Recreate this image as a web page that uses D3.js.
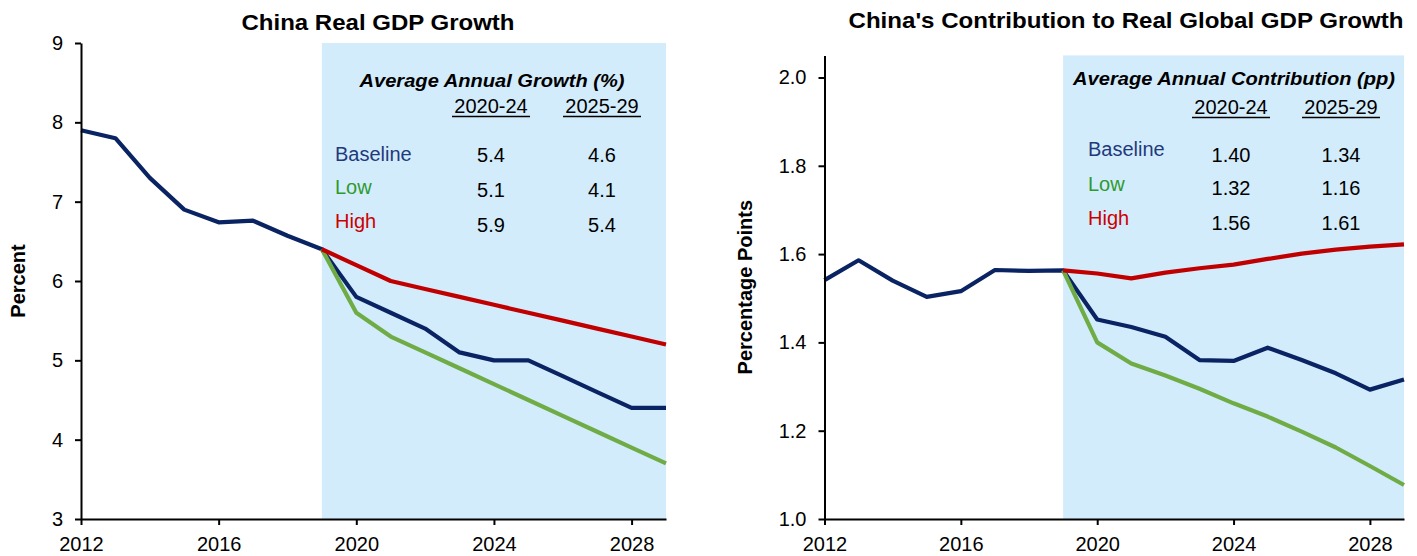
<!DOCTYPE html>
<html><head><meta charset="utf-8">
<script src="https://cdn.jsdelivr.net/npm/d3@7/dist/d3.min.js"></script>
<style>
html,body{margin:0;padding:0;background:#fff;}
svg{display:block;}
text{font-family:"Liberation Sans",Arial,Helvetica,sans-serif;}
</style></head>
<body>
<svg id="chart" width="1417" height="556"></svg>
<script>
// ---------- DATA ----------
const years = [2012,2013,2014,2015,2016,2017,2018,2019,2020,2021,2022,2023,2024,2025,2026,2027,2028,2029];
const forecastYears = [2019,2020,2021,2022,2023,2024,2025,2026,2027,2028,2029];
const xTicks = [2012,2016,2020,2024,2028];

// Left panel: China real GDP growth (%)
const gdpBaseline = [7.9,7.8,7.3,6.9,6.74,6.76,6.57,6.4,5.8,5.6,5.4,5.1,5.0,5.0,4.8,4.6,4.4,4.4];
const gdpLow  = [6.4,5.6,5.3,5.1,4.9,4.7,4.5,4.3,4.1,3.9,3.7];
const gdpHigh = [6.4,6.2,6.0,5.9,5.8,5.7,5.6,5.5,5.4,5.3,5.2];
const gdpYTicks = [3,4,5,6,7,8,9];

// Right panel: contribution to global growth (pp)
const contribBaseline = [1.541,1.586,1.540,1.503,1.516,1.564,1.562,1.563,1.452,1.435,1.413,1.360,1.358,1.388,1.360,1.330,1.293,1.316];
const contribLow  = [1.563,1.400,1.352,1.325,1.295,1.262,1.232,1.198,1.162,1.120,1.077];
const contribHigh = [1.563,1.556,1.545,1.558,1.568,1.576,1.589,1.601,1.610,1.617,1.622];
const contribYTicks = [1.0,1.2,1.4,1.6,1.8,2.0];

// Tables
const scenarioNames = ["Baseline","Low","High"];
const periodLabels = ["2020-24","2025-29"];
const gdpTable = [["5.4","4.6"],["5.1","4.1"],["5.9","5.4"]];
const contribTable = [["1.40","1.34"],["1.32","1.16"],["1.56","1.61"]];

// ---------- STYLE ----------
const lineColors = {Baseline:"#0a2463", Low:"#6fac46", High:"#c00000"};
const labelColors = {Baseline:"#1f3a7a", Low:"#2e9a2e", High:"#cc0000"};
const shade = "#d3ecfc";
const svg = d3.select("#chart");

function panel(cfg){
  const x = d3.scaleLinear().domain([2012,2029]).range([cfg.left, cfg.right]);
  const y = d3.scaleLinear().domain(cfg.yDomain).range([cfg.bottom, cfg.top]);
  const g = svg.append("g");

  // shaded forecast region
  g.append("rect")
    .attr("x", x(2019)).attr("y", y(cfg.yDomain[1]))
    .attr("width", x(2029) - x(2019)).attr("height", y(cfg.yDomain[0]) - y(cfg.yDomain[1]))
    .attr("fill", shade);

  // title
  g.append("text").attr("x", cfg.titleX).attr("y", cfg.titleY)
    .attr("text-anchor","middle").attr("font-weight","bold").attr("font-size",22)
    .attr("textLength", cfg.titleLen).attr("lengthAdjust","spacingAndGlyphs")
    .text(cfg.title);

  // y label
  g.append("text")
    .attr("transform", `translate(${cfg.yLabelX},${(cfg.top+cfg.bottom)/2}) rotate(-90)`)
    .attr("text-anchor","middle").attr("font-weight","bold").attr("font-size",20)
    .text(cfg.yLabel);

  // table
  const t = cfg.table;
  g.append("text").attr("x", t.headX).attr("y", t.headY).attr("text-anchor","middle")
    .attr("font-weight","bold").attr("font-style","italic").attr("font-size",19)
    .attr("textLength", t.headLen).attr("lengthAdjust","spacingAndGlyphs")
    .text(t.heading);
  periodLabels.forEach((p,i)=>{
    g.append("text").attr("x", t.colX[i]).attr("y", t.colHeadY)
      .attr("text-anchor","middle").attr("font-size",20).text(p);
    g.append("line").attr("x1", t.colX[i]-39).attr("x2", t.colX[i]+39)
      .attr("y1", t.colHeadY+3.5).attr("y2", t.colHeadY+3.5)
      .attr("stroke","#000").attr("stroke-width",1.3);
  });
  scenarioNames.forEach((s,r)=>{
    g.append("text").attr("x", t.labelX).attr("y", t.rowY[r])
      .attr("font-size",20).attr("fill", labelColors[s]).text(s);
    t.values[r].forEach((v,c)=>{
      g.append("text").attr("x", t.colX[c]).attr("y", t.valY[r])
        .attr("text-anchor","middle").attr("font-size",20).attr("fill","#000").text(v);
    });
  });

  // lines
  const line = d3.line().x(d=>x(d[0])).y(d=>y(d[1]));
  const series = [
    ["Baseline", d3.zip(years, cfg.baseline)],
    ["Low", d3.zip(forecastYears, cfg.low)],
    ["High", d3.zip(forecastYears, cfg.high)]
  ];
  series.forEach(([name,pts])=>{
    g.append("path").attr("d", line(pts)).attr("fill","none")
      .attr("stroke", lineColors[name]).attr("stroke-width",4.2)
      .attr("stroke-linejoin","round");
  });

  // axes
  const xAxis = d3.axisBottom(x).tickValues(xTicks).tickFormat(d3.format("d"))
    .tickSizeInner(6).tickSizeOuter(0).tickPadding(12);
  const yAxis = d3.axisLeft(y).tickValues(cfg.yTicks).tickFormat(cfg.yFormat)
    .tickSizeInner(6).tickSizeOuter(0).tickPadding(12);
  const xa = g.append("g").attr("transform",`translate(0,${cfg.bottom})`).call(xAxis);
  const ya = g.append("g").attr("transform",`translate(${cfg.left},0)`).call(yAxis);
  [xa,ya].forEach(a=>{
    a.selectAll("path.domain").attr("stroke","#000").attr("stroke-width",2);
    a.selectAll(".tick line").attr("stroke","#000").attr("stroke-width",2);
    a.selectAll(".tick text").attr("font-size",20).attr("fill","#000")
      .attr("font-family",'"Liberation Sans",Arial,sans-serif');
  });
}

panel({
  left:81, right:666, top:43, bottom:519, yDomain:[3,9], yTicks:gdpYTicks, yFormat:d3.format("d"),
  baseline:gdpBaseline, low:gdpLow, high:gdpHigh,
  title:"China Real GDP Growth", titleX:378, titleY:30, titleLen:273,
  yLabel:"Percent", yLabelX:25,
  table:{heading:"Average Annual Growth (%)", headX:492, headY:87, headLen:265,
    colX:[491,602], colHeadY:113, labelX:335, rowY:[161,194,228], valY:[162,197,232], values:gdpTable}
});

panel({
  left:824.5, right:1404, top:55.4, bottom:519, yDomain:[1.0,2.05], yTicks:contribYTicks, yFormat:d3.format(".1f"),
  baseline:contribBaseline, low:contribLow, high:contribHigh,
  title:"China's Contribution to Real Global GDP Growth", titleX:1126, titleY:28, titleLen:555,
  yLabel:"Percentage Points", yLabelX:752,
  table:{heading:"Average Annual Contribution (pp)", headX:1234, headY:85, headLen:322,
    colX:[1231,1341], colHeadY:114, labelX:1088, rowY:[156,191,225], valY:[162,195,230], values:contribTable}
});
</script>
</body></html>
